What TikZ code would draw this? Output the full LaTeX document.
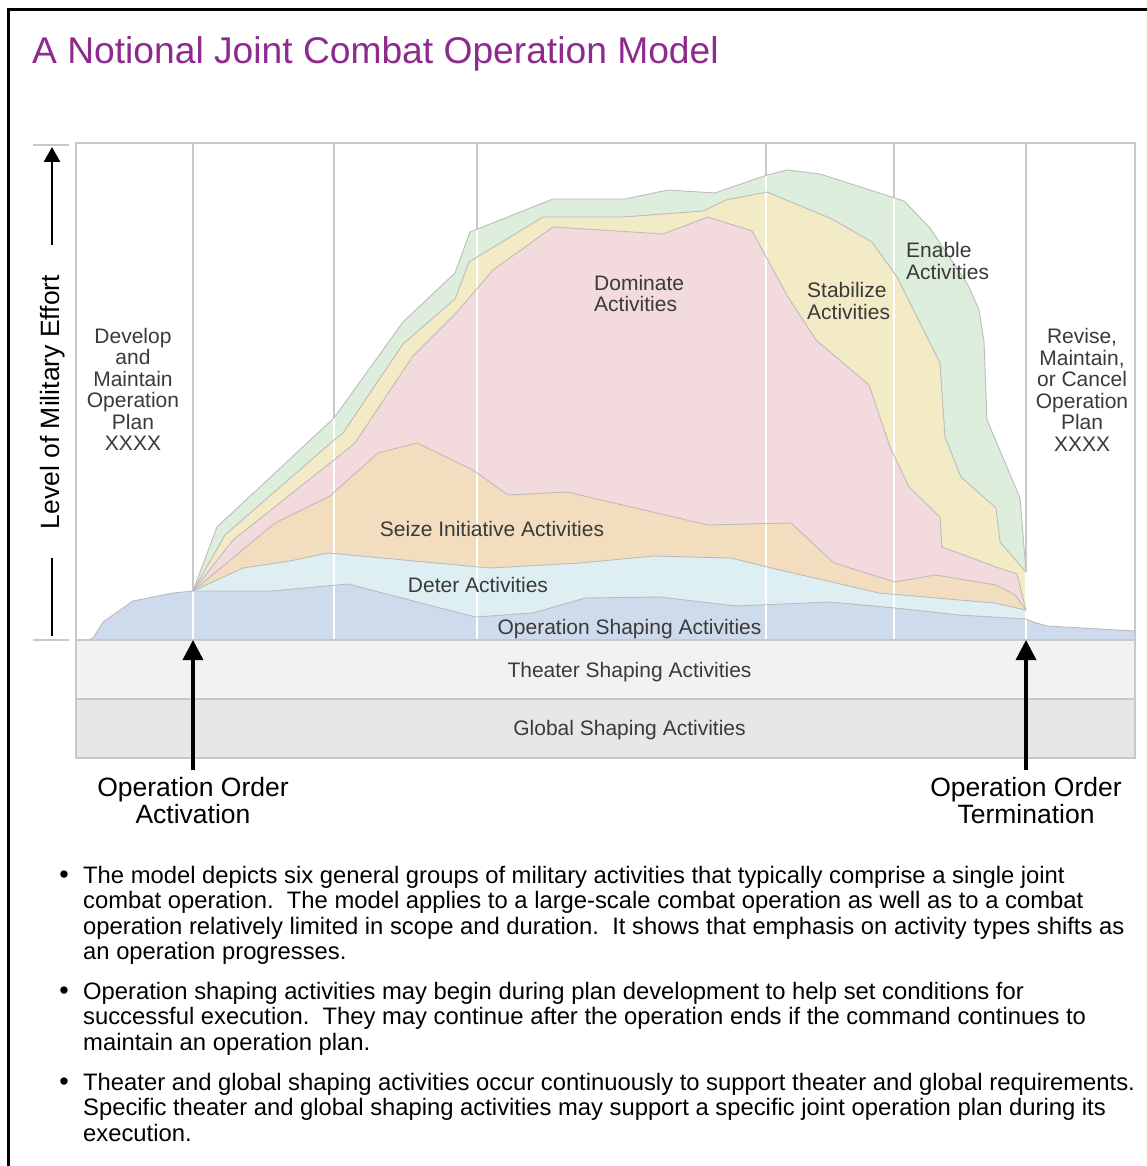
\documentclass[tikz,border=0pt]{standalone}
\usepackage{fontspec}
\setmainfont{Liberation Sans}
\usetikzlibrary{arrows.meta}
\definecolor{titlepurple}{RGB}{142,42,142}
\definecolor{labelgray}{RGB}{58,58,58}
\definecolor{gridgray}{RGB}{200,200,200}
\definecolor{boundgray}{RGB}{188,188,188}
\definecolor{fgreen}{RGB}{222,238,221}
\definecolor{fyellow}{RGB}{243,234,198}
\definecolor{fpink}{RGB}{242,218,221}
\definecolor{forange}{RGB}{242,222,190}
\definecolor{fcyan}{RGB}{221,239,243}
\definecolor{fblue}{RGB}{205,219,236}
\definecolor{theaterfill}{RGB}{242,242,242}
\definecolor{globalfill}{RGB}{230,231,232}
\def\greentop{(193,591) -- (217,527) -- (334,418) -- (403,322) -- (455,273) -- (470,232) -- (553,199) -- (625,199) -- (668,190) -- (715,193) -- (767,175) -- (787,170) -- (820,174) -- (904,201) -- (930,228) -- (968,285) -- (979,310) -- (984,342) -- (987,420) -- (1020,498) -- (1026,572)}
\def\yellowtop{(193,591) -- (225,535) -- (334,440) -- (343,433) -- (403,344) -- (455,299) -- (469,262) -- (543,217) -- (623,217) -- (703,211) -- (726,200) -- (767,192) -- (832,219) -- (872,242) -- (897,277) -- (940,363) -- (945,437) -- (961,477) -- (996,508) -- (1000,542) -- (1026,572)}
\def\pinktop{(193,591) -- (233,540) -- (334,460) -- (355,443) -- (413,356) -- (457,312) -- (493,270) -- (553,227) -- (663,234) -- (708,217) -- (752,231) -- (788,297) -- (816,340) -- (869,385) -- (890,447) -- (909,487) -- (940,517) -- (942,547) -- (996,567) -- (1017,574) -- (1026,610)}
\def\orangetop{(193,591) -- (275,523) -- (330,496) -- (378,453) -- (417,443) -- (473,470) -- (508,495) -- (567,492) -- (708,525) -- (791,523) -- (834,563) -- (895,582) -- (935,575) -- (996,585) -- (1015,595) -- (1026,610)}
\def\cyantop{(193,591) -- (243,568) -- (290,561) -- (328,553) -- (490,568) -- (580,563) -- (654,556) -- (731,558) -- (767,567) -- (879,593) -- (994,603) -- (1026,610)}
\def\bluetop{(88,640) -- (93,638) -- (103,622) -- (133,601) -- (173,593) -- (193,591) -- (272,591) -- (348,584) -- (475,617) -- (533,613) -- (585,598) -- (660,597) -- (736,606) -- (830,602) -- (895,608) -- (959,615) -- (1026,619) -- (1033,622) -- (1047,626) -- (1135,631)}
\begin{document}
\begin{tikzpicture}[x=1pt,y=-1pt,
  lbl/.style={font=\fontsize{21}{21.5}\selectfont, text=labelgray, inner sep=0pt, align=center},
  oplab/.style={font=\fontsize{26.5}{27}\selectfont, text=black, inner sep=0pt, align=center},
  para/.style={font=\fontsize{23.8}{25.5}\selectfont, text=black, inner sep=0pt, align=left, anchor=north west},
  bul/.style={font=\fontsize{27}{27}\selectfont, inner sep=0pt, anchor=base},
  gridline/.style={draw=gridgray, line width=2.4pt},
  whiteline/.style={draw=white, line width=2.4pt},
  bound/.style={draw=boundgray, line width=0.9pt, line join=round},
  band/.style={draw=gridgray, line width=2.4pt},
  tickline/.style={draw=gridgray, line width=2.6pt},
  axline/.style={draw=black, line width=2.6pt},
  oparrow/.style={draw=black, line width=3.5pt, -{Triangle[length=20pt,width=20pt]}}
]
\useasboundingbox (0,0) rectangle (1147,1166);
\clip (0,0) rectangle (1147,1166);
\fill[white] (0,0) rectangle (1147,1166);
% outer frame (right and bottom edges lie outside the picture)
\draw[line width=3pt] (8.5,1200) -- (8.5,10) -- (1200,10);
% title
\node[font=\fontsize{37.2}{40}\selectfont, text=titlepurple, inner sep=0pt, anchor=base west] (title) at (32,63.5) {A Notional Joint Combat Operation Model};
% grid lines in the white area
\foreach \gx in {193,334,477,766,894,1026} { \draw[gridline] (\gx,143) -- (\gx,640); }
% stacked activity areas
\fill[fgreen] \greentop -- (1026,640) -- (193,640) -- cycle;
\fill[fyellow] \yellowtop -- (1026,640) -- (193,640) -- cycle;
\fill[fpink] \pinktop -- (1026,640) -- (193,640) -- cycle;
\fill[forange] \orangetop -- (1026,640) -- (193,640) -- cycle;
\fill[fcyan] \cyantop -- (1026,640) -- (193,640) -- cycle;
\fill[fblue] \bluetop -- (1135,640) -- (88,640) -- cycle;
% white grid lines inside the areas
\begin{scope}
  \clip \greentop -- (1028,572) -- (1028,640) -- (193,640) -- cycle;
  \foreach \gx in {193,334,477,766,894,1026} { \draw[whiteline] (\gx,143) -- (\gx,640); }
\end{scope}
\begin{scope}
  \clip \bluetop -- (1135,640) -- (88,640) -- cycle;
  \foreach \gx in {193,334,477,766,894,1026} { \draw[whiteline] (\gx,143) -- (\gx,640); }
\end{scope}
% boundaries
\draw[bound] \greentop;
\draw[bound] \yellowtop;
\draw[bound] \pinktop;
\draw[bound] \orangetop;
\draw[bound] \cyantop;
\draw[bound] \bluetop;
% shaping bands
\filldraw[band, fill=theaterfill] (76,640) rectangle (1135,699);
\filldraw[band, fill=globalfill] (76,699) rectangle (1135,758);
% chart frame
\draw[band] (76,143) rectangle (1135,758);
% labels inside chart
\node[lbl] (develop) at (133,389.5) {Develop\\and\\Maintain\\Operation\\Plan\\XXXX};
\node[lbl, anchor=west, align=left] (dominate) at (594,293.5) {Dominate\\Activities};
\node[lbl, anchor=west, align=left] (stabilize) at (807,301) {Stabilize\\Activities};
\node[lbl, anchor=west, align=left] (enable) at (906,261) {Enable\\Activities};
\node[lbl] (revise) at (1082,390) {Revise,\\Maintain,\\or Cancel\\Operation\\Plan\\XXXX};
\node[lbl, anchor=base] (seize) at (492,536.5) {Seize Initiative Activities};
\node[lbl, anchor=base] (deter) at (478,592.5) {Deter Activities};
\node[lbl, anchor=base] (opshape) at (629.5,634.5) {Operation Shaping Activities};
\node[lbl, anchor=base] (theater) at (629.5,677.5) {Theater Shaping Activities};
\node[lbl, anchor=base] (global) at (629.5,735.5) {Global Shaping Activities};
% vertical axis
\node[font=\fontsize{26.5}{27}\selectfont, inner sep=0pt, rotate=90] (effort) at (53,402) {Level of Military Effort};
\coordinate (efftop) at (52,147);
\coordinate (effup) at (52,245);
\coordinate (effdown) at (52,558);
\coordinate (effbot) at (52,636);
\draw[axline, -{Triangle[length=15pt,width=16pt]}] (effup) -- (efftop);
\draw[axline] (effdown) -- (effbot);
\draw[tickline] (33,145) -- (69,145);
\draw[tickline] (33,640) -- (69,640);
% operation order markers
\node[oplab] (activation) at (193,800.5) {Operation Order\\Activation};
\node[oplab] (termination) at (1026,800.5) {Operation Order\\Termination};
\coordinate (acttip) at (193,640);
\coordinate (termtip) at (1026,640);
\draw[oparrow] ([yshift=7pt]activation.north) -- (acttip);
\draw[oparrow] ([yshift=7pt]termination.north) -- (termtip);
% bullet notes
\node[bul] (bul1) at (64,883) {\textbullet};
\node[para] (note1) at (83,866) {The model depicts six general groups of military activities that typically comprise a single joint\\combat operation.\ \ The model applies to a large-scale combat operation as well as to a combat\\operation relatively limited in scope and duration.\ \ It shows that emphasis on activity types shifts as\\an operation progresses.};
\node[bul] (bul2) at (64,999) {\textbullet};
\node[para] (note2) at (83,982) {Operation shaping activities may begin during plan development to help set conditions for\\successful execution.\ \ They may continue after the operation ends if the command continues to\\maintain an operation plan.};
\node[bul] (bul3) at (64,1090) {\textbullet};
\node[para] (note3) at (83,1073) {Theater and global shaping activities occur continuously to support theater and global requirements.\\Specific theater and global shaping activities may support a specific joint operation plan during its\\execution.};
\end{tikzpicture}
\end{document}
